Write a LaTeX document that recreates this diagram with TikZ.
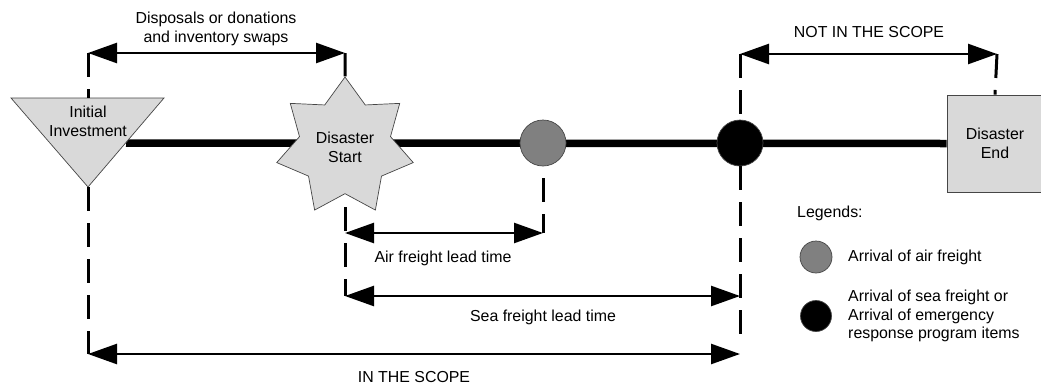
\documentclass[tikz,border=0pt]{standalone}
\usepackage{fontspec}
\setmainfont{Liberation Sans}
\usetikzlibrary{shapes.geometric,arrows.meta}
\definecolor{shapegray}{RGB}{217,217,217}
\definecolor{midgray}{RGB}{128,128,128}
\definecolor{edgegray}{RGB}{70,70,70}
\begin{document}
\begin{tikzpicture}[x=1pt,y=-1pt,
  lbl/.style={font=\fontsize{15.9}{18.8}\selectfont, inner sep=0pt, align=center},
  lbll/.style={font=\fontsize{15.9}{18.8}\selectfont, inner sep=0pt, align=left, anchor=west},
  dimarrow/.style={line width=2.5pt, {Triangle[length=29pt,width=20pt]}-{Triangle[length=29pt,width=20pt]}},
  guide/.style={line width=3pt, dash pattern=on 24pt off 12pt},
  solidguide/.style={line width=3pt},
  shapeedge/.style={draw=edgegray, line width=0.7pt},
  timeline/.style={line width=7.5pt}]
\useasboundingbox (0,0) rectangle (1041,386);
\clip (0,0) rectangle (1041,386);

% key coordinates
\coordinate (tl) at (11,98);
\coordinate (tr) at (164,98);
\coordinate (tt) at (88,98);
\coordinate (tb) at (88,187);
\coordinate (tedge) at (126,143);

% nodes
\node[rectangle, shapeedge, fill=shapegray, minimum width=96pt, minimum height=97pt, lbl] (endbox) at (995,143.5) {Disaster\\End};
\draw[timeline] (tedge) -- (endbox.west);
\filldraw[shapeedge, fill=shapegray] (tl) -- (tr) -- (tb) -- cycle;
\node[lbl] (inv) at (88,121) {Initial\\Investment};
\node[star, star points=7, star point ratio=1.5, minimum size=140pt, inner sep=0pt, shapeedge, fill=shapegray, lbl] (start) at (345,147) {Disaster\\Start};
\node[circle, minimum size=46pt, inner sep=0pt, shapeedge, fill=midgray] (air) at (543,143) {};
\node[circle, minimum size=46pt, inner sep=0pt, shapeedge, fill=black] (sea) at (740,143) {};

% arrow end points
\coordinate (d1) at (88,53);
\coordinate (d2) at (345,53);
\coordinate (n1) at (740,54);
\coordinate (n2) at (997,54);
\coordinate (a1) at (345,233);
\coordinate (a2) at (543,233);
\coordinate (s1) at (345,296);
\coordinate (s2) at (740,296);
\coordinate (i1) at (88,354);
\coordinate (i2) at (740,354);
\coordinate (sb) at (345,207);
\coordinate (airb) at (543,178);
\coordinate (seab) at (740,344);

% guide lines
\draw[guide] (d1) -- (tt);
\draw[guide] (tb) -- (i1);
\draw[solidguide] (d2) -- (start.north);
\draw[guide] (sb) -- (s1);
\draw[guide] (airb) -- (a2);
\draw[guide] (n1) -- (sea.north);
\draw[guide] (sea.south) -- (seab);
\draw[guide] (n2) -- (endbox.north);

% dimension arrows
\draw[dimarrow] (d1) -- (d2);
\draw[dimarrow] (n1) -- (n2);
\draw[dimarrow] (a1) -- (a2);
\draw[dimarrow] (s1) -- (s2);
\draw[dimarrow] (i1) -- (i2);

% labels
\node[lbl] (disp) at (216,29) {Disposals or donations\\and inventory swaps};
\node[lbl] (notin) at (869,32) {NOT IN THE SCOPE};
\node[lbl] (airlt) at (443,258) {Air freight lead time};
\node[lbl] (sealt) at (543,317) {Sea freight lead time};
\node[lbl] (inscope) at (414,377) {IN THE SCOPE};

% legend
\node[lbll] (leg) at (797,213) {Legends:};
\node[circle, minimum size=32pt, inner sep=0pt, shapeedge, fill=midgray] (legair) at (816,257) {};
\node[circle, minimum size=31pt, inner sep=0pt, shapeedge, fill=black] (legsea) at (816,316) {};
\node[lbll] (legairt) at (848,257) {Arrival of air freight};
\node[lbll] (legseat) at (848,316) {Arrival of sea freight or\\Arrival of emergency\\response program items};
\end{tikzpicture}
\end{document}
